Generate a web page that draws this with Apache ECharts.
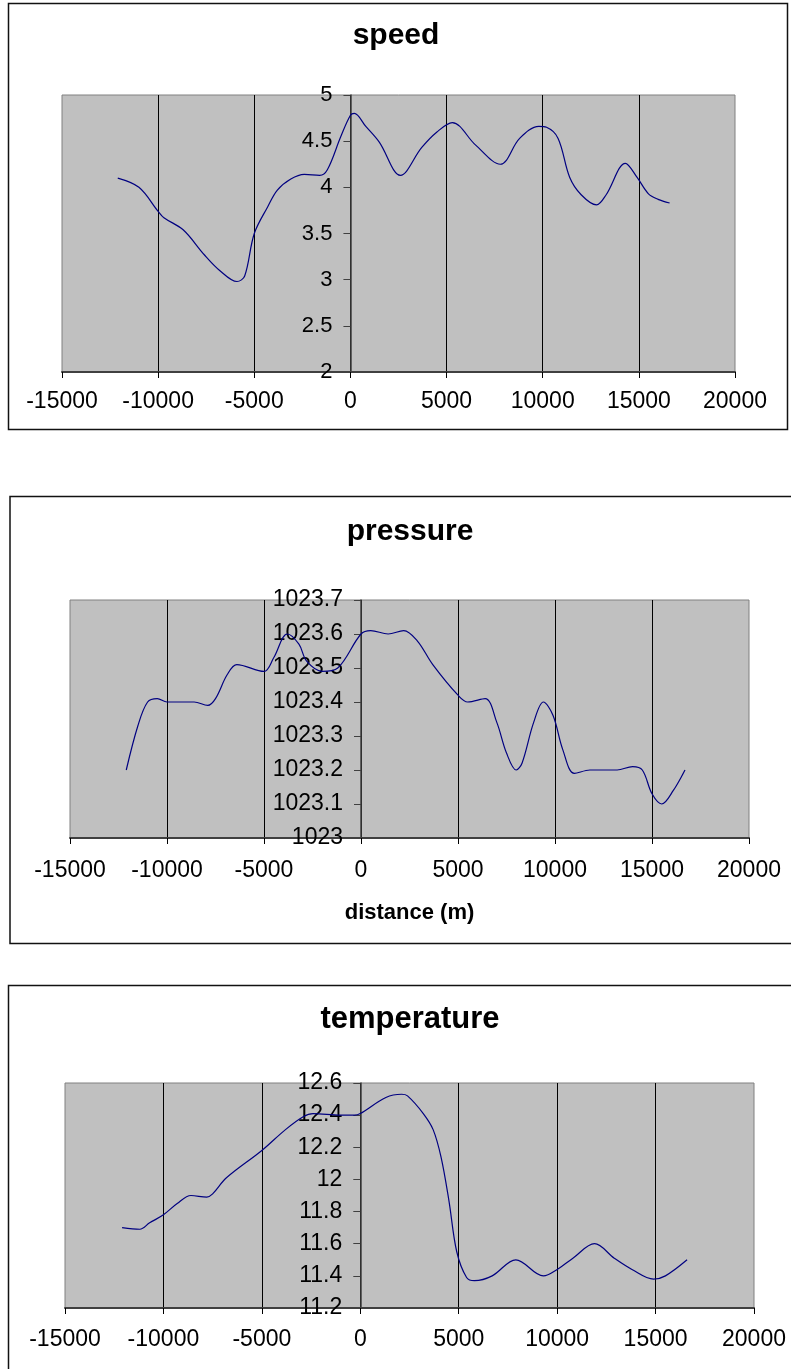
<!DOCTYPE html>
<html>
<head>
<meta charset="utf-8">
<script src="https://cdn.jsdelivr.net/npm/echarts@6/dist/echarts.min.js"></script>
<style>
html,body{margin:0;padding:0;background:#fff;}
#chart{width:791px;height:1369px;}
</style>
</head>
<body>
<div id="chart"></div>
<script>
// ---- data ----
const xTicks = [-15000, -10000, -5000, 0, 5000, 10000, 15000, 20000];
const speedTicks = [2, 2.5, 3, 3.5, 4, 4.5, 5];
const pressureTicks = [1023, 1023.1, 1023.2, 1023.3, 1023.4, 1023.5, 1023.6, 1023.7];
const tempTicks = [11.2, 11.4, 11.6, 11.8, 12, 12.2, 12.4, 12.6];

const speedX = [-12100, -11000, -10000, -9700, -8700, -7600, -6800, -5900, -5500, -5000, -4300, -3800, -3100, -2400, -1600, -1200, -500, 0, 200, 800, 1500, 2600, 3700, 4500, 5300, 6500, 7800, 8800, 9800, 10200, 10800, 11400, 12000, 12800, 13300, 14300, 14900, 15500, 16000, 16600];
const speedY = [4.10, 4.00, 3.74, 3.67, 3.54, 3.27, 3.10, 2.98, 3.04, 3.50, 3.79, 3.97, 4.09, 4.14, 4.13, 4.19, 4.55, 4.78, 4.80, 4.66, 4.49, 4.13, 4.43, 4.60, 4.70, 4.46, 4.25, 4.53, 4.66, 4.65, 4.53, 4.11, 3.92, 3.81, 3.92, 4.26, 4.11, 3.93, 3.87, 3.83];

const pressureX = [-12100, -11500, -11000, -10500, -10000, -8600, -7900, -7500, -6900, -6400, -5000, -4500, -3800, -3200, -2800, -2000, -1200, 0, 500, 1400, 2200, 2900, 3700, 5000, 5500, 6400, 7000, 7500, 8000, 8300, 8900, 9400, 9900, 10400, 11000, 11800, 13200, 14000, 14500, 15000, 15500, 16100, 16700];
const pressureY = [1023.20, 1023.33, 1023.40, 1023.41, 1023.40, 1023.40, 1023.39, 1023.41, 1023.48, 1023.51, 1023.49, 1023.53, 1023.60, 1023.57, 1023.52, 1023.49, 1023.50, 1023.60, 1023.61, 1023.60, 1023.61, 1023.58, 1023.51, 1023.42, 1023.40, 1023.41, 1023.34, 1023.25, 1023.20, 1023.22, 1023.34, 1023.40, 1023.36, 1023.26, 1023.19, 1023.20, 1023.20, 1023.21, 1023.20, 1023.13, 1023.10, 1023.14, 1023.20];

const tempX = [-12100, -11200, -10700, -10000, -9300, -8600, -7800, -7500, -6800, -5000, -3800, -2900, -2400, -1000, -300, 0, 1300, 2100, 2400, 3200, 3700, 4100, 4500, 4900, 5400, 5800, 6700, 7900, 9300, 10000, 10800, 11900, 12900, 13800, 14900, 15500, 16600];
const tempY = [11.70, 11.69, 11.73, 11.78, 11.85, 11.90, 11.89, 11.91, 12.01, 12.18, 12.31, 12.39, 12.41, 12.40, 12.40, 12.41, 12.51, 12.53, 12.52, 12.41, 12.31, 12.14, 11.87, 11.55, 11.39, 11.37, 11.40, 11.50, 11.40, 11.44, 11.51, 11.60, 11.51, 11.44, 11.38, 11.40, 11.50];

const titles = ['speed', 'pressure', 'temperature'];
const xAxisName = 'distance (m)';

// ---- chart ----
const FONT = '"Liberation Sans", Arial, sans-serif';
const chart = echarts.init(document.getElementById('chart'), null, {renderer: 'canvas'});

function pairs(xs, ys) { return xs.map((x, i) => [x, ys[i]]); }
function fmt(v) { return String(parseFloat(Number(v).toFixed(1))); }

const grids = [
  {left: 62, top: 95, width: 673, height: 277},
  {left: 70, top: 600, width: 679, height: 238},
  {left: 65, top: 1083, width: 689, height: 225}
];
const xMargins = [18, 21, 20];
const yTicksList = [speedTicks, pressureTicks, tempTicks];
const seriesData = [pairs(speedX, speedY), pairs(pressureX, pressureY), pairs(tempX, tempY)];
const xMin = xTicks[0], xMax = xTicks[xTicks.length - 1];

const option = {
  animation: false,
  grid: grids.map(g => Object.assign({
    show: true, backgroundColor: '#C0C0C0', borderColor: '#808080', borderWidth: 1,
    containLabel: false, outerBoundsMode: 'none'
  }, g)),
  xAxis: grids.map((g, i) => ({
    type: 'value', gridIndex: i,
    min: xMin, max: xMax, interval: xTicks[1] - xTicks[0],
    axisLine: {show: true, onZero: false, lineStyle: {color: '#404040', width: 2}},
    axisTick: {show: true, length: 6, lineStyle: {color: '#000', width: 1}},
    axisLabel: {show: true, color: '#000', fontFamily: FONT, fontSize: 23, margin: xMargins[i],
      formatter: v => String(v)},
    splitLine: {show: true, showMinLine: false, showMaxLine: false, lineStyle: {color: '#000', width: 1}},
    name: i === 1 ? xAxisName : '',
    nameLocation: 'middle', nameGap: 64,
    nameTextStyle: {color: '#000', fontFamily: FONT, fontSize: 22, fontWeight: 'bold'}
  })),
  yAxis: grids.map((g, i) => ({
    type: 'value', gridIndex: i, position: 'left',
    // place the axis (line, ticks and labels) at x = 0
    offset: -g.width * (0 - xMin) / (xMax - xMin),
    min: yTicksList[i][0], max: yTicksList[i][yTicksList[i].length - 1],
    interval: +(yTicksList[i][1] - yTicksList[i][0]).toFixed(2),
    axisLine: {show: true, onZero: false, lineStyle: {color: '#404040', width: 1.5}},
    axisTick: {show: true, length: 7, lineStyle: {color: '#404040', width: 1}},
    axisLabel: {show: true, color: '#000', fontFamily: FONT, fontSize: i === 0 ? 22 : 23, margin: 18, formatter: fmt},
    splitLine: {show: false}
  })),
  series: seriesData.map((d, i) => ({
    type: 'line', xAxisIndex: i, yAxisIndex: i, data: d,
    smooth: 0.35, showSymbol: false, symbol: 'none',
    lineStyle: {color: '#000080', width: 1.2}, z: 5
  })),
  graphic: [
    {type: 'rect', shape: {x: 8.5, y: 3.5, width: 779, height: 426}, style: {fill: null, stroke: '#111', lineWidth: 1.5}, z: -10, silent: true},
    {type: 'rect', shape: {x: 10, y: 496.5, width: 800, height: 447}, style: {fill: null, stroke: '#111', lineWidth: 1.5}, z: -10, silent: true},
    {type: 'rect', shape: {x: 8.5, y: 985.5, width: 800, height: 500}, style: {fill: null, stroke: '#111', lineWidth: 1.5}, z: -10, silent: true},
    {type: 'text', x: 396, y: 36, style: {text: titles[0], fill: '#000', font: 'bold 30px ' + FONT, textAlign: 'center', textVerticalAlign: 'middle'}},
    {type: 'text', x: 410, y: 532, style: {text: titles[1], fill: '#000', font: 'bold 30px ' + FONT, textAlign: 'center', textVerticalAlign: 'middle'}},
    {type: 'text', x: 410, y: 1019, style: {text: titles[2], fill: '#000', font: 'bold 31px ' + FONT, textAlign: 'center', textVerticalAlign: 'middle'}}
  ]
};
chart.setOption(option);
</script>
</body>
</html>
